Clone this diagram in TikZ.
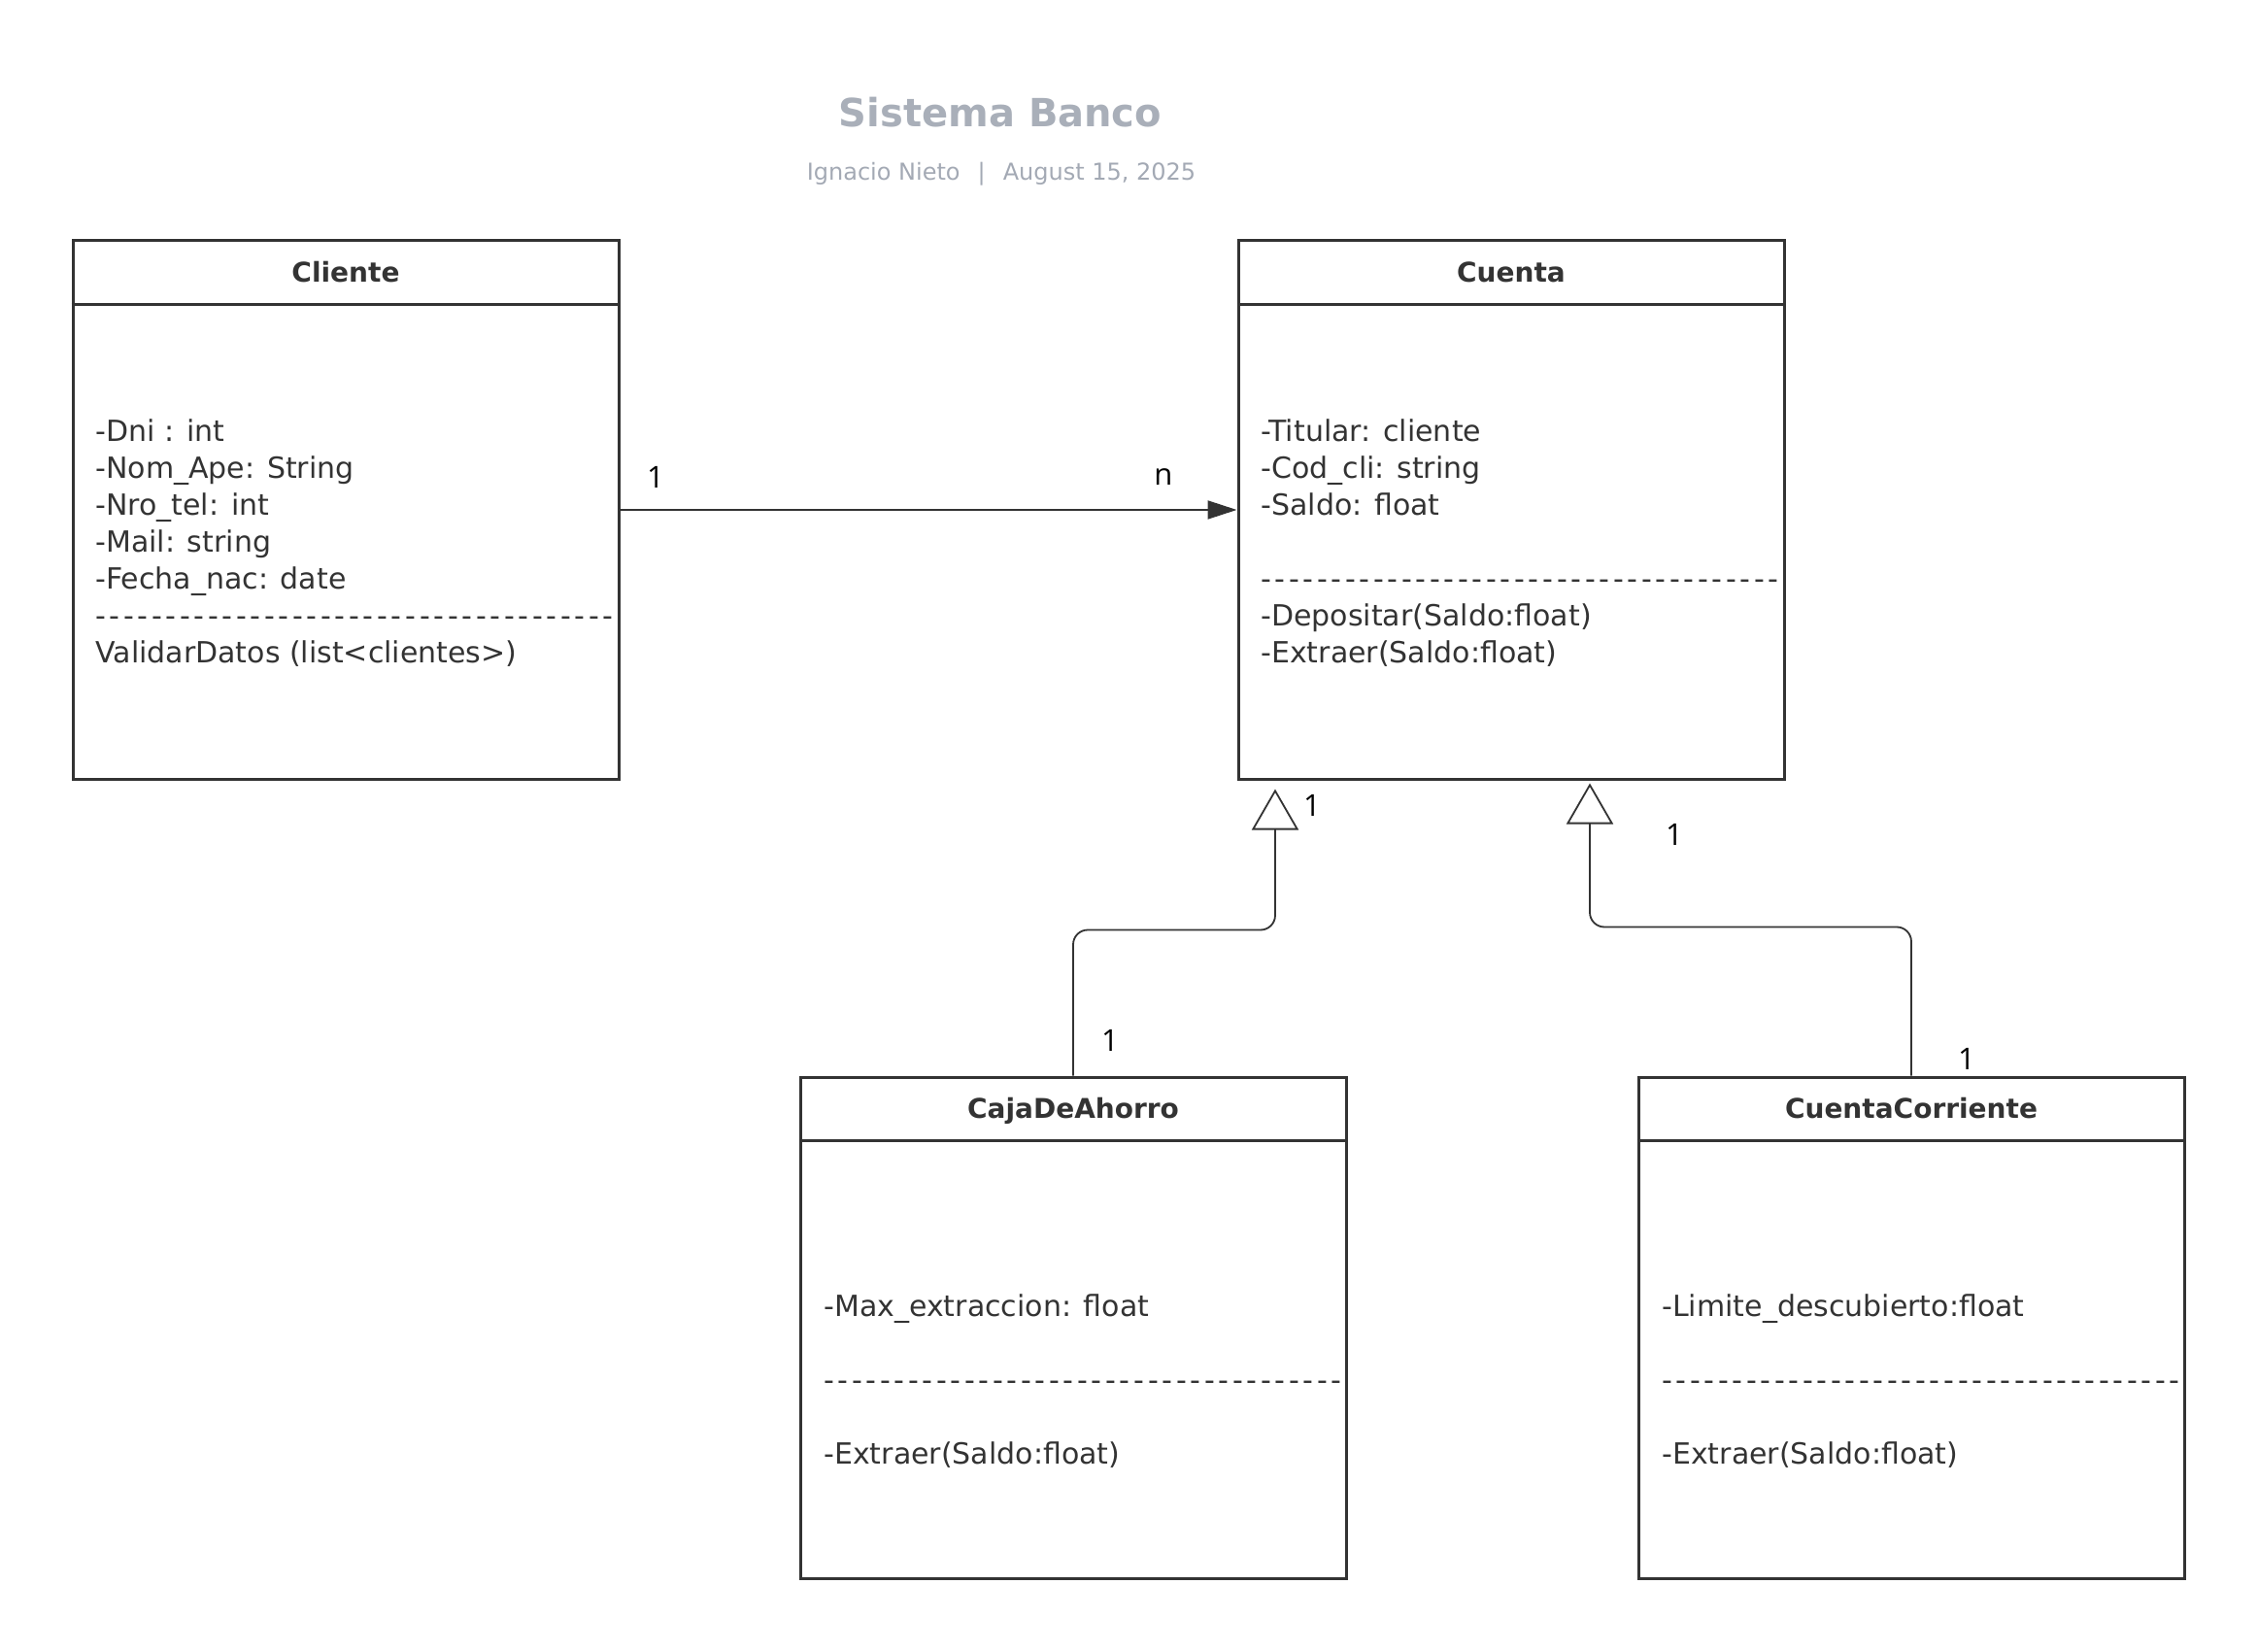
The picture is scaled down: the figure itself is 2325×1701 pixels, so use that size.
\documentclass[tikz,border=0pt]{standalone}
\usepackage{fontspec}
\setmainfont{DejaVu Sans}
\newfontfamily\multfont{Open Sans}
\usepackage{tikz}
\usetikzlibrary{arrows.meta,positioning}

\definecolor{borde}{HTML}{333333}
\definecolor{gristitulo}{HTML}{A9AFB9}
\definecolor{grissub}{HTML}{A3A9B4}

\tikzset{
clase/.style={draw=borde, line width=1.5pt, rectangle, inner sep=0pt, minimum width=281pt},
cabecera/.style={font=\bfseries\fontsize{14pt}{17pt}\selectfont, text=borde, inner sep=0pt, anchor=base},
atributos/.style={font=\fontsize{15pt}{19pt}\selectfont, text=borde, align=left, anchor=west, inner sep=0pt},
mult/.style={font=\multfont\fontsize{15.5pt}{18pt}\selectfont, inner sep=0pt},
asociacion/.style={draw=borde, line width=1pt, -{Triangle[length=15pt,width=9.5pt]}},
herencia/.style={draw=borde, line width=0.9pt, rounded corners=7.5pt,
  -{Triangle[open,length=21pt,width=24pt,line width=0.9pt,fill=white]}}
}

\newcommand{\separador}{\foreach \i in {1,...,37}{\makebox[7.25pt][l]{-}}}

\begin{document}
\begin{tikzpicture}[x=0.5pt,y=-0.5pt]
\useasboundingbox (0,0) rectangle (2325,1701);

\node[font=\bfseries\fontsize{20pt}{24pt}\selectfont, text=gristitulo] (titulo) at (1030,116) {Sistema Banco};
\node[font=\fontsize{12pt}{14pt}\selectfont, text=grissub] (autor) at (1031,179)
  {Ignacio Nieto\hspace{9pt}|\hspace{9pt}August 15, 2025};

% clases
\node[clase, minimum height=277pt] (cliente) at (356,525) {};
\node[clase, minimum height=277pt] (cuenta) at (1556,525) {};
\node[clase, minimum height=258pt] (caja) at (1105,1367) {};
\node[clase, minimum height=258pt] (corriente) at (1968,1367) {};

\foreach \c/\t in {cliente/Cliente, cuenta/Cuenta, caja/CajaDeAhorro, corriente/CuentaCorriente} {
  \node[cabecera] (\c-t) at ([yshift=-22pt]\c.north) {\t};
  \draw[borde, line width=1.5pt] ([yshift=-33.5pt]\c.north west) -- ([yshift=-33.5pt]\c.north east);
}

\node[atributos] (cliente-a) at (98,559) {-Dni : int\\-Nom\_Ape: String\\-Nro\_tel: int\\-Mail: string\\-Fecha\_nac: date\\\separador\\ValidarDatos (list<clientes>)};
\node[atributos] (cuenta-a) at (1298,559) {-Titular: cliente\\-Cod\_cli: string\\-Saldo: float\\[19pt]\separador\\-Depositar(Saldo:float)\\-Extraer(Saldo:float)};
\node[atributos] (caja-a) at (848,1422) {-Max\_extraccion: float\\[19pt]\separador\\[19pt]-Extraer(Saldo:float)};
\node[atributos] (corriente-a) at (1711,1422) {-Limite\_descubierto:float\\[19pt]\separador\\[19pt]-Extraer(Saldo:float)};

% relaciones
\draw[asociacion] (cliente.east) -- (cuenta.west);
\draw[herencia, shorten >=4.5pt] (caja.north) -- ++(0,-150) -| ([xshift=-121.5pt]cuenta.south);
\draw[herencia, shorten >=1.5pt] (corriente.north) -- ++(0,-153) -| ([xshift=40.5pt]cuenta.south);

\node[mult] (m1) at (675,491) {1};
\node[mult] (m2) at (1198,491) {n};
\node[mult] (m3) at (1351,829) {1};
\node[mult] (m4) at (1143,1071) {1};
\node[mult] (m5) at (1724,859) {1};
\node[mult] (m6) at (2025,1090) {1};
\end{tikzpicture}
\end{document}
